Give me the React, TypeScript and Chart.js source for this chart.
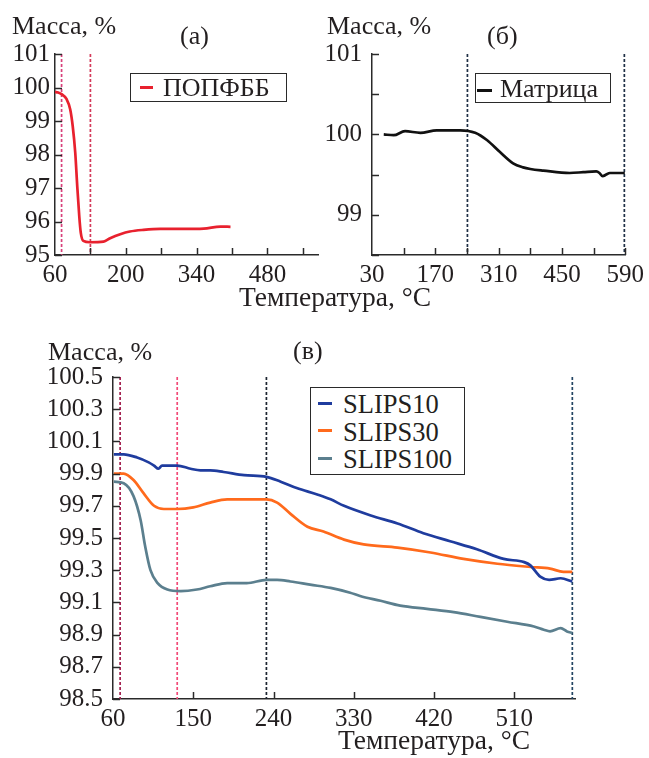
import React, { useEffect, useRef } from "react";
import { Chart, registerables } from "chart.js";
Chart.register(...registerables);

// ---------- Panel (а): ПОПФББ ----------
const tempA = [60, 66, 73, 83, 90, 95, 100, 104, 108, 111, 116, 129, 156, 169, 189, 208, 235, 268, 314, 354, 387, 407];
const massA = [99.87, 99.85, 99.8, 99.65, 99.35, 98.85, 98.06, 97.05, 96.15, 95.66, 95.42, 95.38, 95.4, 95.5, 95.62, 95.7, 95.75, 95.78, 95.78, 95.79, 95.85, 95.84];
const xTicksA = [60, 200, 340, 480];
const xMarksA = [130, 200, 270, 340, 410, 480, 550];
const yTicksA = [95, 96, 97, 98, 99, 100, 101];
const dashA = [73, 130];

// ---------- Panel (б): Матрица ----------
const tempB = [56, 78, 103, 137, 173, 225, 258, 284, 313, 342, 364, 380, 409, 467, 497, 526, 533, 540, 548, 556, 589];
const massB = [100.0, 99.99, 100.04, 100.02, 100.05, 100.05, 100.02, 99.93, 99.78, 99.64, 99.59, 99.57, 99.55, 99.52, 99.53, 99.54, 99.52, 99.48, 99.5, 99.52, 99.52];
const xTicksB = [30, 170, 310, 450, 590];
const xMarksB = [100, 170, 240, 310, 380, 450, 520, 590];
const yTicksB = [99, 100, 101];
const yMarksB = [98.5, 99, 99.5, 100, 100.5, 101];
const dashB = [241, 588];

// ---------- Panel (в): SLIPS ----------
const tempS10 = [61, 72, 87, 100, 106, 111, 115, 132, 147, 158, 169, 184, 207, 232, 248, 266, 289, 304, 319, 349, 379, 408, 438, 468, 498, 521, 528, 539, 549, 562, 575];
const massS10 = [100.02, 100.02, 100.0, 99.97, 99.95, 99.93, 99.95, 99.95, 99.93, 99.92, 99.92, 99.91, 99.89, 99.88, 99.85, 99.81, 99.77, 99.74, 99.7, 99.64, 99.59, 99.53, 99.48, 99.43, 99.37, 99.35, 99.33, 99.26, 99.24, 99.25, 99.23];
const tempS30 = [61, 72, 83, 94, 106, 117, 132, 150, 169, 188, 214, 232, 244, 259, 278, 296, 319, 341, 379, 416, 453, 491, 528, 550, 565, 575];
const massS30 = [99.9, 99.9, 99.86, 99.78, 99.7, 99.68, 99.68, 99.69, 99.72, 99.74, 99.74, 99.74, 99.72, 99.65, 99.57, 99.54, 99.49, 99.46, 99.44, 99.41, 99.37, 99.34, 99.32, 99.31, 99.29, 99.29];
const tempS100 = [61, 72, 83, 91, 96, 102, 110, 121, 136, 154, 169, 188, 210, 232, 244, 259, 281, 304, 326, 337, 360, 382, 412, 442, 472, 502, 532, 543, 550, 562, 569, 575];
const massS100 = [99.85, 99.84, 99.76, 99.61, 99.45, 99.3, 99.22, 99.18, 99.17, 99.18, 99.2, 99.22, 99.22, 99.24, 99.24, 99.23, 99.21, 99.19, 99.16, 99.14, 99.11, 99.08, 99.06, 99.04, 99.01, 98.98, 98.95, 98.93, 98.92, 98.94, 98.92, 98.91];
const xTicksC = [60, 150, 240, 330, 420, 510];
const xMarksC = [150, 240, 330, 420, 510];
const yTicksC = [98.5, 98.7, 98.9, 99.1, 99.3, 99.5, 99.7, 99.9, 100.1, 100.3, 100.5];
const dashC = [68, 132, 232, 575];

const labelA = "ПОПФББ";
const labelB = "Матрица";
const labelsC = ["SLIPS10", "SLIPS30", "SLIPS100"];

const W = 649;
const H = 758;
const FONT = '"Liberation Serif", "Times New Roman", serif';
const TEXT = "#231f20";
const AXIS = "#2a2a2a";
const colA = "#e8212e";
const colB = "#111111";
const colsC = ["#1f3c9e", "#ff6a1c", "#5b7f8e"];

const pts = (xs: number[], ys: number[]) => xs.map((x, i) => ({ x, y: ys[i] }));

function makePlugins(xMarks: number[], yMarks: number[], dashes: number[], dashColors: string[]) {
  return [
    {
      id: "vlines",
      beforeDatasetsDraw(chart: any) {
        const { ctx, chartArea, scales } = chart;
        ctx.save();
        ctx.setLineDash([3, 2]);
        ctx.lineWidth = 1.7;
        dashes.forEach((v, i) => {
          const x = scales.x.getPixelForValue(v);
          ctx.strokeStyle = dashColors[i];
          ctx.beginPath();
          ctx.moveTo(x, chartArea.top);
          ctx.lineTo(x, chartArea.bottom);
          ctx.stroke();
        });
        ctx.restore();
      },
    },
    {
      id: "inticks",
      afterDraw(chart: any) {
        const { ctx, chartArea, scales } = chart;
        ctx.save();
        ctx.setLineDash([]);
        ctx.lineWidth = 1.5;
        ctx.strokeStyle = AXIS;
        xMarks.forEach((v) => {
          const x = Math.round(scales.x.getPixelForValue(v)) + 0.5;
          ctx.beginPath();
          ctx.moveTo(x, chartArea.bottom);
          ctx.lineTo(x, chartArea.bottom - 7);
          ctx.stroke();
        });
        yMarks.forEach((v) => {
          const y = Math.round(scales.y.getPixelForValue(v)) + 0.5;
          ctx.beginPath();
          ctx.moveTo(chartArea.left, y);
          ctx.lineTo(chartArea.left + 7, y);
          ctx.stroke();
        });
        ctx.restore();
      },
    },
  ];
}

function makeConfig(o: any) {
  const font = { family: FONT, size: 25 };
  return {
    type: "line",
    data: { datasets: o.datasets },
    options: {
      animation: false,
      responsive: false,
      devicePixelRatio: 1,
      events: [],
      layout: { padding: { left: 0, top: o.box.top, right: W - o.box.right, bottom: 0 } },
      plugins: { legend: { display: false }, tooltip: { enabled: false } },
      elements: { point: { radius: 0 }, line: { borderWidth: 2.7, cubicInterpolationMode: "monotone" } },
      scales: {
        x: {
          type: "linear",
          min: o.xMin,
          max: o.xMax,
          afterFit: (s: any) => { s.height = H - o.box.bottom; },
          afterBuildTicks: (s: any) => { s.ticks = o.xTicks.map((v: number) => ({ value: v })); },
          grid: { display: false, drawTicks: false },
          border: { display: true, color: AXIS, width: 1.5 },
          ticks: { font, color: TEXT, padding: o.xPad, autoSkip: false, maxRotation: 0, callback: (v: any) => String(v) },
        },
        y: {
          type: "linear",
          min: o.yMin,
          max: o.yMax,
          afterFit: (s: any) => { s.width = o.box.left; },
          afterBuildTicks: (s: any) => { s.ticks = o.yTicks.map((v: number) => ({ value: v })); },
          grid: { display: false, drawTicks: false },
          border: { display: true, color: AXIS, width: 1.5 },
          ticks: { font, color: TEXT, padding: o.yPad, autoSkip: false, callback: o.yFmt },
        },
      },
    },
    plugins: o.plugins,
  };
}

const txt = (text: string, left: number, baseline: number, size = 26) => (
  <div
    style={{
      position: "absolute",
      left,
      top: baseline - size * 0.838,
      font: `${size}px ${FONT}`,
      lineHeight: `${size}px`,
      color: TEXT,
      whiteSpace: "nowrap",
    }}
  >
    {text}
  </div>
);

const swatch = (left: number, top: number, width: number, color: string) => (
  <div style={{ position: "absolute", left, top: top - 1.5, width, height: 3, background: color }} />
);

export default function App() {
  const refA = useRef<HTMLCanvasElement>(null);
  const refB = useRef<HTMLCanvasElement>(null);
  const refC = useRef<HTMLCanvasElement>(null);

  useEffect(() => {
    const charts: Chart[] = [];
    charts.push(
      new Chart(refA.current!, makeConfig({
        box: { left: 55, top: 54, right: 318, bottom: 255 },
        datasets: [{ label: labelA, data: pts(tempA, massA), borderColor: colA }],
        xMin: 60, xMax: 580, xTicks: xTicksA, xPad: 5,
        yMin: 95, yMax: 101, yTicks: yTicksA, yPad: 5,
        yFmt: (v: any) => String(v),
        plugins: makePlugins(xMarksA, yTicksA, dashA, ["#d8407a", "#d43a5a"]),
      }) as any)
    );
    charts.push(
      new Chart(refB.current!, makeConfig({
        box: { left: 372, top: 54, right: 626, bottom: 255 },
        datasets: [{ label: labelB, data: pts(tempB, massB), borderColor: colB }],
        xMin: 30, xMax: 590, xTicks: xTicksB, xPad: 5,
        yMin: 98.5, yMax: 101, yTicks: yTicksB, yPad: 10,
        yFmt: (v: any) => String(v),
        plugins: makePlugins(xMarksB, yMarksB, dashB, ["#1f2f45", "#1f2f45"]),
      }) as any)
    );
    charts.push(
      new Chart(refC.current!, makeConfig({
        box: { left: 113, top: 377, right: 575, bottom: 699 },
        datasets: [
          { label: labelsC[0], data: pts(tempS10, massS10), borderColor: colsC[0] },
          { label: labelsC[1], data: pts(tempS30, massS30), borderColor: colsC[1] },
          { label: labelsC[2], data: pts(tempS100, massS100), borderColor: colsC[2] },
        ],
        xMin: 60, xMax: 578, xTicks: xTicksC, xPad: 5,
        yMin: 98.5, yMax: 100.5, yTicks: yTicksC, yPad: 10,
        yFmt: (v: any) => Number(v).toFixed(1),
        plugins: makePlugins(xMarksC, yTicksC, dashC, ["#a3204f", "#f24a78", "#1c2430", "#234563"]),
      }) as any)
    );
    return () => charts.forEach((c) => c.destroy());
  }, []);

  const canvasStyle: React.CSSProperties = { position: "absolute", left: 0, top: 0, width: W, height: H };
  const boxStyle = (left: number, top: number, width: number, height: number): React.CSSProperties => ({
    position: "absolute", left, top, width, height, border: "1.5px solid #2a2a2a", background: "#fff", boxSizing: "border-box",
  });

  return (
    <div style={{ position: "absolute", left: 0, top: 0, width: W, height: H, background: "#fff", overflow: "hidden" }}>
      <canvas ref={refA} width={W} height={H} style={canvasStyle} />
      <canvas ref={refB} width={W} height={H} style={canvasStyle} />
      <canvas ref={refC} width={W} height={H} style={canvasStyle} />

      {txt("Масса, %", 12, 35)}
      {txt("(а)", 180, 45)}
      {txt("Масса, %", 327, 35)}
      {txt("(б)", 487, 45)}
      {txt("Температура, °C", 239, 306, 27.5)}
      {txt("Масса, %", 48, 361)}
      {txt("(в)", 293, 360)}
      {txt("Температура, °C", 338, 749, 27.5)}

      <div style={boxStyle(130, 73, 157, 29)} />
      {swatch(140, 87, 13, colA)}
      {txt(labelA, 163, 97)}

      <div style={boxStyle(475, 73, 136, 30)} />
      {swatch(477, 90, 15, colB)}
      {txt(labelB, 500, 98)}

      <div style={boxStyle(310, 387, 155, 88)} />
      {swatch(318, 403, 14, colsC[0])}
      {txt(labelsC[0], 343, 413, 26.5)}
      {swatch(318, 430, 14, colsC[1])}
      {txt(labelsC[1], 343, 441, 26.5)}
      {swatch(318, 458, 14, colsC[2])}
      {txt(labelsC[2], 343, 468, 26.5)}
    </div>
  );
}
